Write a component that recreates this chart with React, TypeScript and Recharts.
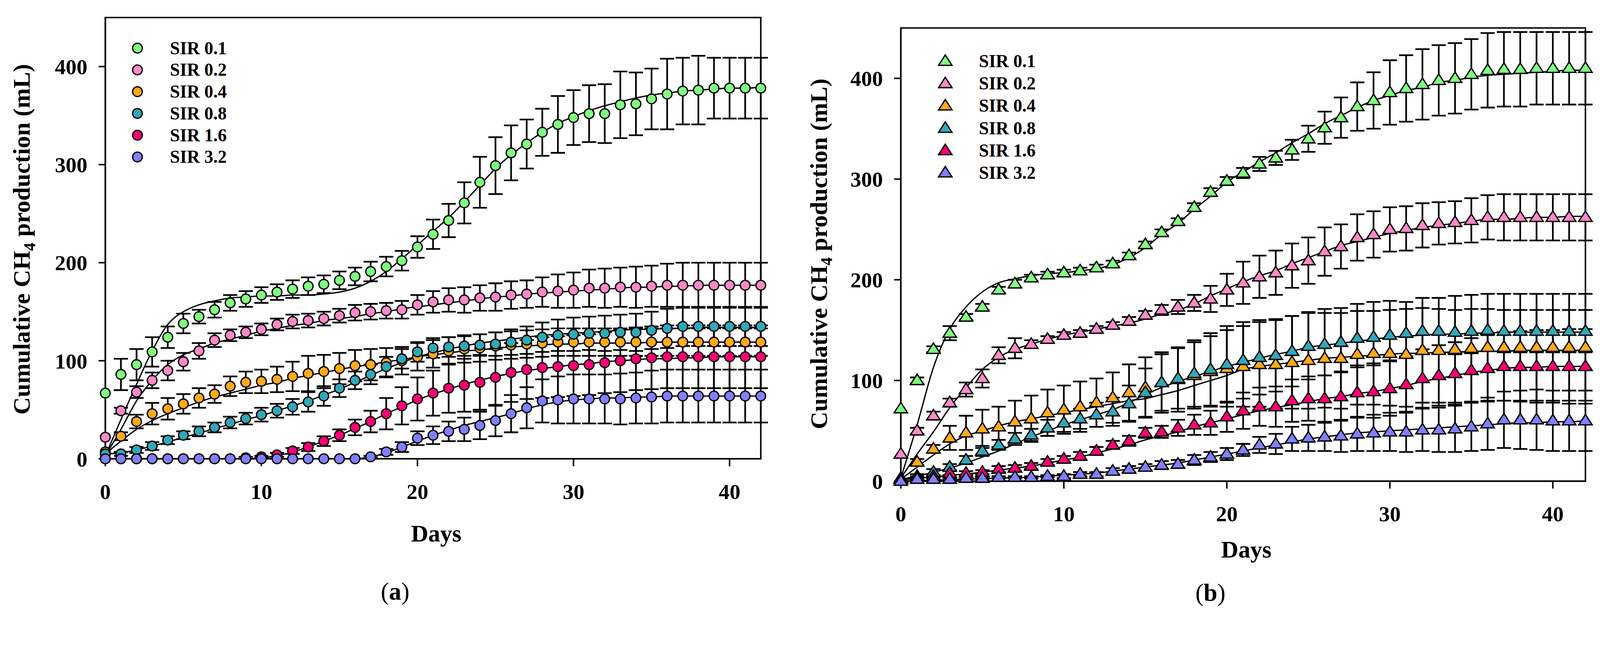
import React from 'react';
import {
  ComposedChart,
  Scatter,
  Line,
  XAxis,
  YAxis,
  ErrorBar,
  Legend,
  ReferenceArea,
} from 'recharts';

const days = [
  0, 1, 2, 3, 4, 5, 6, 7, 8, 9, 10, 11, 12, 13, 14, 15, 16, 17, 18, 19, 20, 21,
  22, 23, 24, 25, 26, 27, 28, 29, 30, 31, 32, 33, 34, 35, 36, 37, 38, 39, 40, 41, 42,
];
const dayTicks = [0, 10, 20, 30, 40];
const valueTicks = [0, 100, 200, 300, 400];
const seriesNames = ['SIR 0.1', 'SIR 0.2', 'SIR 0.4', 'SIR 0.8', 'SIR 1.6', 'SIR 3.2'];
const seriesColors = ['#80FF80', '#FF88C8', '#FFAA18', '#30A8B8', '#FF0078', '#8080FF'];

// panel (a) - circles
const aMean01 = [67, 86, 96, 109, 124, 138, 145, 152, 159, 163, 167, 170, 173, 176, 178, 182, 186, 191, 196, 202, 216, 229, 243, 261, 282, 299, 312, 321, 333, 341, 348, 352, 352, 361, 362, 367, 372, 375, 376, 378, 378, 378, 378];
const aErr01 = [0, 16, 16, 15, 11, 10, 7, 8, 8, 8, 8, 8, 9, 9, 9, 9, 9, 10, 10, 10, 11, 15, 17, 21, 26, 29, 28, 25, 24, 29, 28, 29, 30, 34, 32, 31, 36, 34, 35, 31, 31, 31, 31];
const aFit01 = [3, 40, 76, 110, 137, 150, 157, 161, 164, 165, 166, 166, 167, 167, 168, 170, 174, 181, 191, 204, 218, 232, 246, 262, 279, 296, 310, 322, 333, 342, 349, 355, 360, 364, 368, 371, 373, 375, 376, 377, 378, 378, 379];

const aMean02 = [22, 49, 68, 80, 90, 99, 110, 121, 126, 129, 132, 137, 140, 141, 143, 146, 149, 150, 151, 152, 157, 160, 162, 162, 164, 165, 167, 168, 170, 171, 172, 174, 174, 175, 175, 176, 177, 177, 177, 177, 177, 177, 177];
const aErr02 = [0, 3, 6, 8, 10, 9, 8, 7, 6, 6, 6, 6, 7, 7, 7, 7, 8, 8, 8, 9, 10, 11, 12, 13, 13, 14, 14, 14, 15, 17, 18, 19, 20, 20, 21, 21, 22, 23, 23, 23, 23, 23, 23];
const aFit02 = [3, 30, 59, 80, 96, 106, 112, 118, 122, 126, 130, 133, 136, 138, 141, 143, 145, 148, 150, 153, 155, 157, 159, 161, 163, 165, 166, 168, 169, 170, 171, 172, 173, 174, 175, 175, 176, 176, 177, 177, 177, 177, 177];

const aMean04 = [7, 23, 38, 46, 51, 56, 62, 66, 74, 78, 79, 81, 84, 87, 89, 92, 95, 96, 98, 100, 104, 107, 110, 112, 113, 115, 116, 117, 118, 119, 119, 119, 119, 119, 119, 119, 119, 119, 119, 119, 119, 119, 119];
const aErr04 = [0, 4, 7, 11, 11, 10, 10, 9, 10, 11, 12, 13, 15, 18, 17, 16, 16, 16, 15, 14, 14, 14, 14, 14, 14, 14, 14, 14, 14, 14, 14, 14, 14, 14, 14, 14, 14, 14, 14, 14, 14, 14, 14];
const aFit04 = [5, 18, 30, 39, 46, 52, 58, 63, 67, 71, 75, 78, 82, 85, 88, 91, 94, 96, 99, 101, 104, 106, 108, 110, 111, 113, 114, 115, 116, 117, 117, 118, 118, 118, 118, 119, 119, 119, 119, 119, 119, 119, 119];

const aMean08 = [5, 5, 9, 13, 19, 24, 28, 32, 37, 41, 45, 49, 53, 58, 64, 72, 80, 86, 94, 102, 109, 113, 114, 115, 116, 117, 119, 121, 124, 126, 127, 128, 128, 129, 129, 131, 133, 135, 135, 135, 135, 135, 135];
const aErr08 = [0, 2, 3, 4, 4, 4, 5, 5, 6, 6, 7, 7, 8, 10, 10, 9, 9, 10, 10, 10, 10, 10, 10, 10, 11, 12, 13, 14, 15, 16, 17, 17, 18, 18, 19, 19, 20, 20, 20, 20, 20, 20, 20];
const aFit08 = [5, 6, 9, 13, 17, 22, 26, 31, 35, 40, 44, 49, 54, 59, 65, 71, 78, 85, 92, 98, 104, 108, 112, 115, 118, 120, 122, 124, 126, 127, 128, 129, 130, 131, 132, 132, 133, 133, 134, 134, 134, 134, 134];

const aMean16 = [0, 0, 0, 0, 0, 0, 0, 0, 0, 1, 2, 4, 8, 12, 18, 24, 32, 38, 46, 54, 61, 67, 72, 75, 78, 83, 88, 91, 93, 94, 95, 96, 98, 100, 102, 103, 104, 104, 104, 104, 104, 104, 104];
const aErr16 = [0, 0, 0, 0, 0, 0, 0, 0, 0, 1, 1, 2, 3, 4, 5, 6, 8, 11, 16, 19, 22, 23, 25, 27, 28, 29, 30, 30, 31, 31, 31, 31, 31, 32, 32, 32, 32, 32, 32, 32, 32, 32, 32];
const aFit16 = [0, 0, 0, 0, 0, 0, 0, 0, 0, 0, 1, 3, 7, 12, 18, 24, 31, 38, 46, 53, 60, 66, 71, 76, 80, 84, 87, 90, 92, 94, 96, 97, 99, 100, 101, 102, 102, 103, 103, 104, 104, 104, 104];

const aMean32 = [0, 0, 0, 0, 0, 0, 0, 0, 0, 0, 0, 0, 0, 0, 0, 0, 0, 2, 7, 12, 21, 24, 28, 30, 34, 39, 46, 52, 59, 60, 61, 61, 61, 61, 62, 63, 64, 64, 64, 64, 64, 64, 64];
const aErr32 = [0, 0, 0, 0, 0, 0, 0, 0, 0, 0, 0, 0, 0, 0, 0, 0, 0, 1, 3, 5, 7, 9, 10, 12, 14, 16, 19, 21, 22, 24, 25, 25, 25, 26, 26, 27, 27, 27, 27, 27, 27, 27, 27];
const aFit32 = [0, 0, 0, 0, 0, 0, 0, 0, 0, 0, 0, 0, 0, 0, 0, 0, 0, 2, 6, 12, 18, 24, 29, 34, 38, 42, 46, 51, 55, 58, 60, 61, 62, 62, 63, 63, 64, 64, 64, 64, 64, 64, 64];

// panel (b) - triangles
const bMean01 = [72, 100, 131, 147, 163, 173, 190, 196, 202, 205, 207, 209, 212, 216, 224, 235, 247, 258, 272, 287, 298, 306, 315, 321, 329, 340, 351, 361, 372, 378, 386, 390, 394, 398, 400, 404, 408, 409, 409, 410, 410, 410, 410];
const bErr01 = [0, 3, 3, 7, 3, 3, 3, 4, 3, 3, 3, 3, 3, 3, 3, 3, 3, 3, 4, 4, 4, 5, 7, 7, 10, 13, 16, 20, 24, 28, 32, 33, 35, 35, 35, 35, 37, 37, 37, 36, 36, 36, 36];
const bFit01 = [3, 56, 113, 151, 173, 188, 197, 201, 204, 206, 207, 209, 211, 215, 222, 232, 245, 256, 270, 283, 297, 307, 317, 326, 336, 345, 355, 363, 371, 378, 383, 388, 391, 396, 398, 401, 403, 404, 405, 406, 407, 408, 408];

const bMean02 = [27, 50, 65, 78, 91, 102, 125, 132, 136, 141, 145, 147, 151, 155, 159, 165, 170, 173, 177, 181, 190, 197, 203, 207, 214, 219, 228, 233, 242, 245, 250, 251, 254, 256, 257, 259, 262, 262, 262, 262, 262, 262, 262];
const bErr02 = [0, 3, 4, 4, 7, 9, 8, 10, 4, 3, 3, 3, 3, 3, 4, 4, 5, 7, 8, 13, 16, 21, 21, 22, 22, 23, 24, 22, 23, 23, 22, 22, 22, 21, 21, 22, 22, 23, 23, 23, 23, 23, 23];
const bFit02 = [3, 27, 49, 73, 93, 111, 123, 131, 136, 141, 145, 148, 151, 154, 157, 161, 166, 170, 176, 184, 191, 198, 204, 209, 216, 222, 228, 234, 238, 242, 246, 249, 252, 254, 256, 258, 260, 260, 261, 262, 262, 263, 263];

const bMean04 = [3, 19, 32, 43, 48, 52, 54, 59, 62, 68, 71, 74, 78, 83, 88, 93, 98, 101, 105, 109, 112, 114, 116, 116, 118, 120, 122, 122, 126, 127, 127, 126, 130, 130, 131, 132, 133, 133, 133, 133, 133, 133, 133];
const bErr04 = [0, 3, 4, 12, 17, 19, 20, 21, 23, 23, 24, 25, 24, 25, 28, 30, 30, 32, 33, 35, 38, 40, 42, 44, 46, 48, 49, 50, 50, 51, 52, 52, 52, 52, 53, 53, 53, 53, 53, 53, 53, 53, 53];
const bFit04 = [2, 14, 26, 37, 45, 50, 55, 59, 62, 65, 68, 71, 74, 77, 80, 82, 86, 90, 95, 100, 105, 111, 114, 116, 118, 120, 122, 123, 124, 125, 126, 127, 127, 128, 128, 129, 129, 129, 130, 130, 130, 130, 130];

const bMean08 = [2, 5, 9, 14, 21, 30, 36, 42, 46, 53, 58, 62, 66, 69, 77, 88, 98, 102, 107, 111, 116, 120, 123, 125, 129, 134, 136, 138, 142, 143, 145, 147, 149, 149, 148, 149, 150, 149, 149, 149, 149, 149, 149];
const bErr08 = [0, 2, 3, 3, 4, 5, 5, 6, 6, 8, 9, 10, 12, 14, 18, 24, 28, 30, 33, 36, 38, 38, 37, 36, 35, 33, 31, 29, 27, 26, 25, 24, 23, 22, 22, 22, 21, 21, 21, 21, 21, 21, 21];
const bFit08 = [2, 5, 9, 13, 18, 24, 30, 37, 44, 50, 56, 61, 66, 71, 78, 86, 93, 99, 104, 109, 114, 118, 122, 126, 129, 133, 135, 137, 139, 141, 143, 144, 145, 146, 146, 147, 147, 148, 148, 148, 148, 148, 148];

const bMean16 = [2, 4, 5, 8, 8, 9, 12, 13, 15, 19, 22, 25, 30, 36, 40, 48, 49, 53, 56, 58, 64, 70, 74, 74, 80, 82, 82, 84, 88, 89, 92, 96, 102, 105, 107, 110, 112, 114, 114, 114, 114, 114, 114];
const bErr16 = [0, 1, 1, 2, 2, 2, 3, 3, 3, 3, 3, 4, 4, 4, 5, 5, 6, 8, 10, 12, 15, 18, 19, 20, 21, 22, 23, 24, 25, 26, 27, 28, 29, 30, 31, 32, 33, 34, 35, 36, 36, 37, 37];
const bFit16 = [1, 3, 4, 6, 7, 9, 11, 13, 15, 18, 21, 24, 28, 32, 36, 41, 45, 49, 54, 58, 62, 66, 70, 73, 76, 79, 82, 84, 87, 89, 92, 95, 99, 102, 105, 108, 110, 112, 113, 113, 114, 114, 114];

const bMean32 = [0, 2, 2, 2, 3, 3, 4, 4, 4, 5, 5, 7, 7, 10, 12, 14, 16, 17, 21, 24, 27, 31, 36, 37, 42, 43, 44, 45, 47, 48, 49, 49, 51, 51, 52, 54, 57, 61, 61, 61, 60, 60, 60];
const bErr32 = [0, 1, 1, 1, 1, 1, 1, 1, 1, 1, 2, 2, 2, 3, 3, 3, 4, 4, 5, 5, 6, 6, 8, 10, 12, 13, 14, 16, 17, 18, 19, 20, 21, 22, 23, 24, 26, 28, 29, 30, 30, 30, 30];
const bFit32 = [0, 0.5, 1, 1.5, 2, 2.5, 3, 3.5, 4, 5, 6, 7, 8, 10, 12, 14, 16, 18, 21, 24, 27, 30, 33, 36, 39, 42, 44, 46, 48, 49, 50, 51, 52, 53, 54, 55, 56, 57, 58, 58, 59, 59, 60];

const serif = '"Liberation Serif", "Times New Roman", Times, serif';
const PAGE_W = 4284;
const PAGE_H = 1652;

const toPoints = (mean: number[], err: number[]) =>
  days.map((d, i) => ({ day: d, value: mean[i], err: err[i] }));
const toFit = (fit: number[]) => days.map((d, i) => ({ day: d, fit: fit[i] }));

const panelA = [
  { mean: aMean01, err: aErr01, fit: aFit01 },
  { mean: aMean02, err: aErr02, fit: aFit02 },
  { mean: aMean04, err: aErr04, fit: aFit04 },
  { mean: aMean08, err: aErr08, fit: aFit08 },
  { mean: aMean16, err: aErr16, fit: aFit16 },
  { mean: aMean32, err: aErr32, fit: aFit32 },
];
const panelB = [
  { mean: bMean01, err: bErr01, fit: bFit01 },
  { mean: bMean02, err: bErr02, fit: bFit02 },
  { mean: bMean04, err: bErr04, fit: bFit04 },
  { mean: bMean08, err: bErr08, fit: bFit08 },
  { mean: bMean16, err: bErr16, fit: bFit16 },
  { mean: bMean32, err: bErr32, fit: bFit32 },
];

type MarkerFn = (color: string, cx: number, cy: number) => React.ReactElement;

const circleMarker: MarkerFn = (color, cx, cy) => (
  <circle cx={cx} cy={cy} r={13} fill={color} stroke="#000" strokeWidth={3.5} />
);

const triangleMarker: MarkerFn = (color, cx, cy) => (
  <polygon
    points={`${cx},${cy - 17} ${cx - 18},${cy + 11} ${cx + 18},${cy + 11}`}
    fill={color}
    stroke="#000"
    strokeWidth={3.5}
  />
);

interface PanelProps {
  series: { mean: number[]; err: number[]; fit: number[] }[];
  marker: MarkerFn;
  left: number;
  margin: { top: number; right: number; bottom: number; left: number };
  yTitle: { x: number; y: number };
  xTitle: { x: number; y: number };
  legend: { markerX: number; textX: number; y0: number; dy: number };
}

const Panel: React.FC<PanelProps> = ({ series, marker, left, margin, yTitle, xTitle, legend }) => {
  const tickStyle = { fill: '#000', fontSize: 58, fontWeight: 'bold', fontFamily: serif };
  return (
    <div style={{ position: 'absolute', left, top: 0 }}>
      <ComposedChart width={2142} height={1652} margin={margin}>
        <XAxis
          type="number"
          dataKey="day"
          domain={[0, 42]}
          ticks={dayTicks}
          interval={0}
          height={100}
          tickSize={20}
          tickMargin={46}
          axisLine={{ stroke: '#000', strokeWidth: 4 }}
          tickLine={{ stroke: '#000', strokeWidth: 4 }}
          tick={tickStyle}
          label={() => (
            <text
              x={xTitle.x}
              y={xTitle.y}
              textAnchor="middle"
              fontSize={64}
              fontWeight="bold"
              fontFamily={serif}
              fill="#000"
            >
              Days
            </text>
          )}
        />
        <YAxis
          type="number"
          domain={[0, 450]}
          ticks={valueTicks}
          interval={0}
          width={120}
          tickSize={18}
          tickMargin={30}
          axisLine={{ stroke: '#000', strokeWidth: 4 }}
          tickLine={{ stroke: '#000', strokeWidth: 4 }}
          tick={tickStyle}
          label={() => (
            <text
              x={yTitle.x}
              y={yTitle.y}
              transform={`rotate(-90 ${yTitle.x} ${yTitle.y})`}
              textAnchor="middle"
              fontSize={65}
              fontWeight="bold"
              fontFamily={serif}
              fill="#000"
            >
              Cumulative CH
              <tspan fontSize={44} dy={14}>
                4
              </tspan>
              <tspan dy={-14}> production (mL)</tspan>
            </text>
          )}
        />
        <ReferenceArea x1={0} x2={42} y1={0} y2={450} fill="none" stroke="#000" strokeWidth={4} />
        {series.map((s, i) => (
          <Scatter
            key={seriesNames[i]}
            name={seriesNames[i]}
            data={toPoints(s.mean, s.err)}
            dataKey="value"
            fill={seriesColors[i]}
            isAnimationActive={false}
            shape={(p: any) => marker(seriesColors[i], p.cx, p.cy)}
          >
            <ErrorBar dataKey="err" direction="y" width={19} stroke="#000" strokeWidth={4.5} />
          </Scatter>
        ))}
        {series.map((s, i) => (
          <Line
            key={`fit-${seriesNames[i]}`}
            data={toFit(s.fit)}
            dataKey="fit"
            type="monotone"
            stroke="#000"
            strokeWidth={3.5}
            dot={false}
            activeDot={false}
            legendType="none"
            isAnimationActive={false}
          />
        ))}
        <Legend
          layout="vertical"
          align="center"
          verticalAlign="middle"
          wrapperStyle={{ left: 0, top: 0, width: 700, height: 560 }}
          content={() => (
            <svg width={700} height={560} style={{ overflow: 'visible' }}>
              {seriesNames.map((n, i) => {
                const cy = legend.y0 + i * legend.dy;
                return (
                  <g key={n}>
                    {marker(seriesColors[i], legend.markerX, cy)}
                    <text
                      x={legend.textX}
                      y={cy + 16}
                      fontSize={48}
                      fontWeight="bold"
                      fontFamily={serif}
                      fill="#000"
                    >
                      {n}
                    </text>
                  </g>
                );
              })}
            </svg>
          )}
        />
      </ComposedChart>
    </div>
  );
};

const Caption: React.FC<{ x: number; y: number; letter: string }> = ({ x, y, letter }) => (
  <text x={x} y={y} textAnchor="middle" fontSize={66} fontFamily={serif} fill="#000">
    (<tspan fontWeight="bold">{letter}</tspan>)
  </text>
);

export default function App() {
  // fit the fixed-size figure into the visible viewport
  const vw = typeof window !== 'undefined' ? window.innerWidth : PAGE_W;
  const vh = typeof window !== 'undefined' ? window.innerHeight : PAGE_H;
  const scale = Math.min(1, vw / PAGE_W, vh / PAGE_H);

  return (
    <div
      style={{
        position: 'fixed',
        left: 0,
        top: 0,
        width: PAGE_W,
        height: PAGE_H,
        background: '#fff',
        transform: `scale(${scale})`,
        transformOrigin: '0 0',
      }}
    >
      <Panel
        series={panelA}
        marker={circleMarker}
        left={0}
        margin={{ top: 47, right: 105, bottom: 323, left: 162 }}
        yTitle={{ x: 80, y: 641 }}
        xTitle={{ x: 1168, y: 1451 }}
        legend={{ markerX: 368, textX: 455, y0: 129, dy: 58.3 }}
      />
      <Panel
        series={panelB}
        marker={triangleMarker}
        left={2142}
        margin={{ top: 75, right: 39, bottom: 263, left: 150 }}
        yTitle={{ x: 72, y: 680 }}
        xTitle={{ x: 1195, y: 1494 }}
        legend={{ markerX: 389, textX: 479, y0: 164, dy: 59.8 }}
      />
      <svg
        width={PAGE_W}
        height={PAGE_H}
        style={{ position: 'absolute', left: 0, top: 0, pointerEvents: 'none' }}
      >
        <Caption x={1058} y={1607} letter="a" />
        <Caption x={3241} y={1610} letter="b" />
      </svg>
    </div>
  );
}
